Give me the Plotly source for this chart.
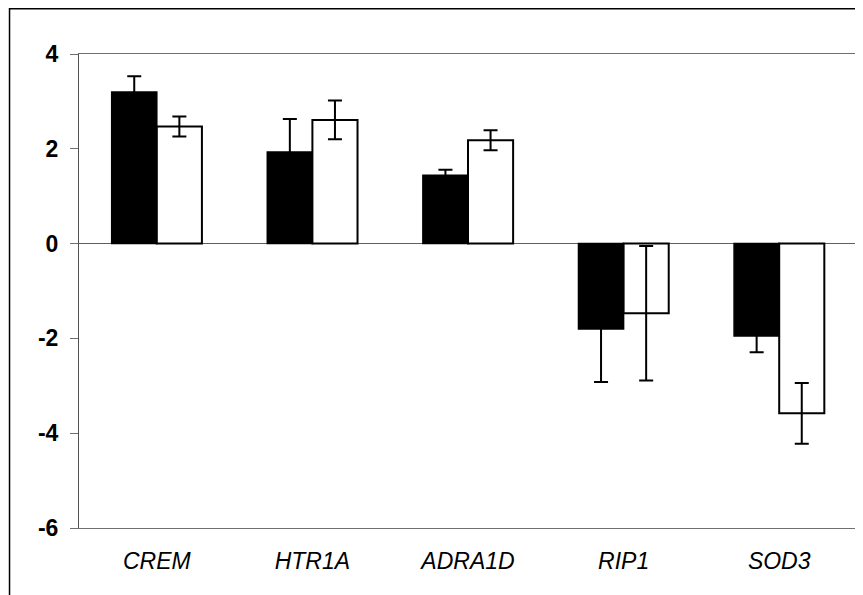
import plotly.graph_objects as go

categories = ["CREM", "HTR1A", "ADRA1D", "RIP1", "SOD3"]
black_vals = [3.20, 1.93, 1.44, -1.80, -1.95]
black_err = [0.33, 0.70, 0.12, 1.12, 0.34]
white_vals = [2.47, 2.61, 2.18, -1.47, -3.58]
white_err = [0.21, 0.41, 0.21, 1.42, 0.64]
y_ticks = [-6, -4, -2, 0, 2, 4]

FONT = "Arial, Liberation Sans, sans-serif"

fig = go.Figure()
fig.add_trace(go.Bar(
    x=categories, y=black_vals,
    marker=dict(color="black", line=dict(color="black", width=1.5)),
    error_y=dict(type="data", array=black_err, visible=True,
                 color="black", thickness=2, width=7),
    showlegend=False,
))
fig.add_trace(go.Bar(
    x=categories, y=white_vals,
    marker=dict(color="white", line=dict(color="black", width=2)),
    error_y=dict(type="data", array=white_err, visible=True,
                 color="black", thickness=2, width=7),
    showlegend=False,
))

fig.update_layout(
    width=855, height=587,
    margin=dict(l=71, r=6, t=46, b=67),
    paper_bgcolor="white", plot_bgcolor="white",
    barmode="group", bargap=0.42, bargroupgap=0,
    font=dict(family=FONT, color="black"),
    shapes=[dict(type="rect", xref="paper", yref="paper",
                 x0=-0.0893, x1=1.2, y0=-0.3, y1=1.0955,
                 line=dict(color="black", width=1.5), layer="below")],
)
fig.update_xaxes(
    showline=True, mirror=True, linecolor="#707070", linewidth=1,
    showgrid=False, ticks="", ticklabelstandoff=12,
    tickfont=dict(family=FONT, size=23, style="italic", color="black"),
)
fig.update_yaxes(
    range=[-6, 4], tickvals=y_ticks, ticktext=[str(v) for v in y_ticks],
    showline=True, mirror=True, linecolor="#505050", linewidth=1,
    showgrid=False, ticks="outside", ticklen=8, tickcolor="#707070",
    ticklabelstandoff=7,
    zeroline=True, zerolinecolor="#606060", zerolinewidth=1,
    tickfont=dict(family=FONT, size=23, weight="bold", color="black"),
)

fig.write_html("out.html")
